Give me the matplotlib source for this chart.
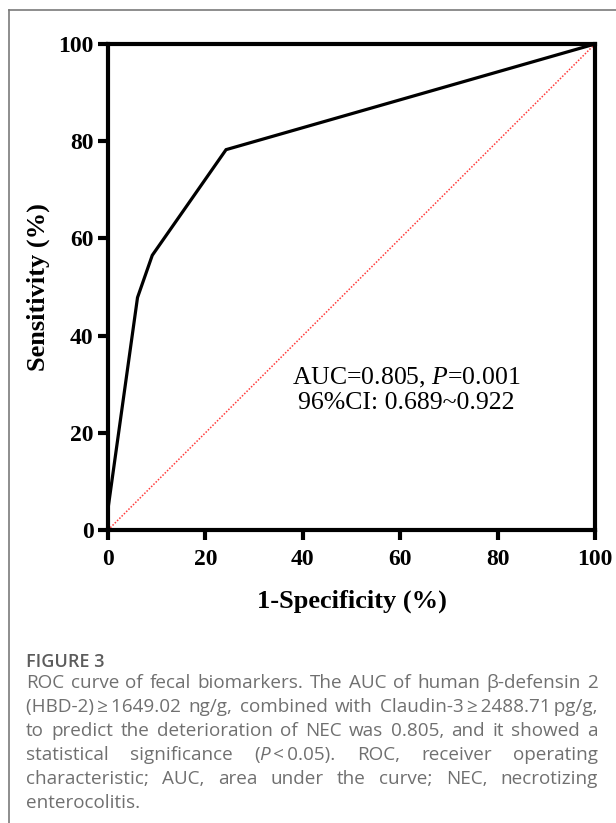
import matplotlib
matplotlib.use("Agg")
import matplotlib.pyplot as plt
from matplotlib.lines import Line2D

# ROC curve data (1-Specificity %, Sensitivity %)
fpr = [0.0, 0.0, 6.06, 9.09, 24.24, 100.0]
tpr = [0.0, 4.35, 47.83, 56.52, 78.26, 100.0]
ref_line = [0.0, 100.0]
ticks = [0, 20, 40, 60, 80, 100]

auc_text = "AUC=0.805, $P$=0.001\n96%CI: 0.689~0.922"

caption_title = "FIGURE 3"
# words split on spaces; *...* marks italic pieces
caption_lines = [
    "ROC curve of fecal biomarkers. The AUC of human \u03b2-defensin 2",
    "(HBD-2)\u2009\u2265\u20091649.02 ng/g, combined with Claudin-3\u2009\u2265\u20092488.71\u2009pg/g,",
    "to predict the deterioration of NEC was 0.805, and it showed a",
    "statistical significance (*P*\u2009<\u20090.05). ROC, receiver operating",
    "characteristic; AUC, area under the curve; NEC, necrotizing",
    "enterocolitis.",
]

W, H = 616, 823
plt.rcParams["mathtext.fontset"] = "custom"
plt.rcParams["mathtext.rm"] = "Liberation Serif"
plt.rcParams["mathtext.it"] = "Liberation Serif:italic"

fig = plt.figure(figsize=(W / 100, H / 100), dpi=100)
ax = fig.add_axes([108 / W, 1 - 530 / H, 487 / W, 486 / H])

ax.plot(ref_line, ref_line, color="#ff3b3b", lw=1.1, ls=(0, (1, 1.1)), zorder=2)
ax.plot(fpr, tpr, color="black", lw=2.3, solid_joinstyle="miter", zorder=3, clip_on=False)

ax.set_xlim(0, 100)
ax.set_ylim(0, 100)
ax.set_xticks(ticks)
ax.set_yticks(ticks)
serif_bold = dict(family="Liberation Serif", weight="bold")
ax.set_xticklabels([str(t) for t in ticks], fontsize=17, **serif_bold)
ax.set_yticklabels([str(t) for t in ticks], fontsize=17, **serif_bold)
ax.tick_params(axis="x", direction="out", length=7.5, width=3, pad=6, color="black")
ax.tick_params(axis="y", direction="out", length=7.5, width=3, pad=3, color="black")
for sp in ax.spines.values():
    sp.set_linewidth(3)
ax.set_xlabel("1-Specificity (%)", fontsize=19, labelpad=14, **serif_bold)
ax.set_ylabel("Sensitivity (%)", fontsize=19, labelpad=6, **serif_bold)

ax.text(61.2, 28.8, auc_text, ha="center", va="center", fontsize=18.5,
        family="Liberation Serif", linespacing=1.12)

# frame around the figure panel
grey = "#7a7a7a"
fig.add_artist(Line2D([8.5 / W, 8.5 / W], [0, 1 - 9.5 / H], transform=fig.transFigure,
                      color=grey, lw=1.2))
fig.add_artist(Line2D([8.5 / W, 1], [1 - 9.5 / H, 1 - 9.5 / H], transform=fig.transFigure,
                      color=grey, lw=1.2))

# caption
cap_color = "#707070"
cap_font = ["Open Sans", "DejaVu Sans"]
fig.text(26 / W, 1 - 662 / H, caption_title, fontsize=13, color="#5c5c5c",
         family=cap_font, weight="semibold", va="center", ha="left")

left_px, right_px = 26, 598
line_y = [683, 707, 731, 755, 779, 803]
renderer = fig.canvas.get_renderer()

for li, (line, ypx) in enumerate(zip(caption_lines, line_y)):
    words = line.split(" ")
    word_items = []
    for w in words:
        pieces = []
        parts = w.split("*")
        for k, p in enumerate(parts):
            if not p:
                continue
            style = "italic" if k % 2 == 1 else "normal"
            t = fig.text(0, 1 - ypx / H, p, fontsize=13.6, color=cap_color,
                         family=cap_font, style=style, va="center", ha="left")
            pieces.append(t)
        widths = [t.get_window_extent(renderer).width for t in pieces]
        word_items.append((pieces, widths))
    total = sum(sum(ws) for _, ws in word_items)
    n = len(word_items)
    if li == len(caption_lines) - 1 or n == 1:
        gap = 5
    else:
        gap = (right_px - left_px - total) / (n - 1)
    x = left_px
    for pieces, ws in word_items:
        for t, wd in zip(pieces, ws):
            t.set_x(x / W)
            x += wd
        x += gap

fig.savefig("out.png", dpi=100)
